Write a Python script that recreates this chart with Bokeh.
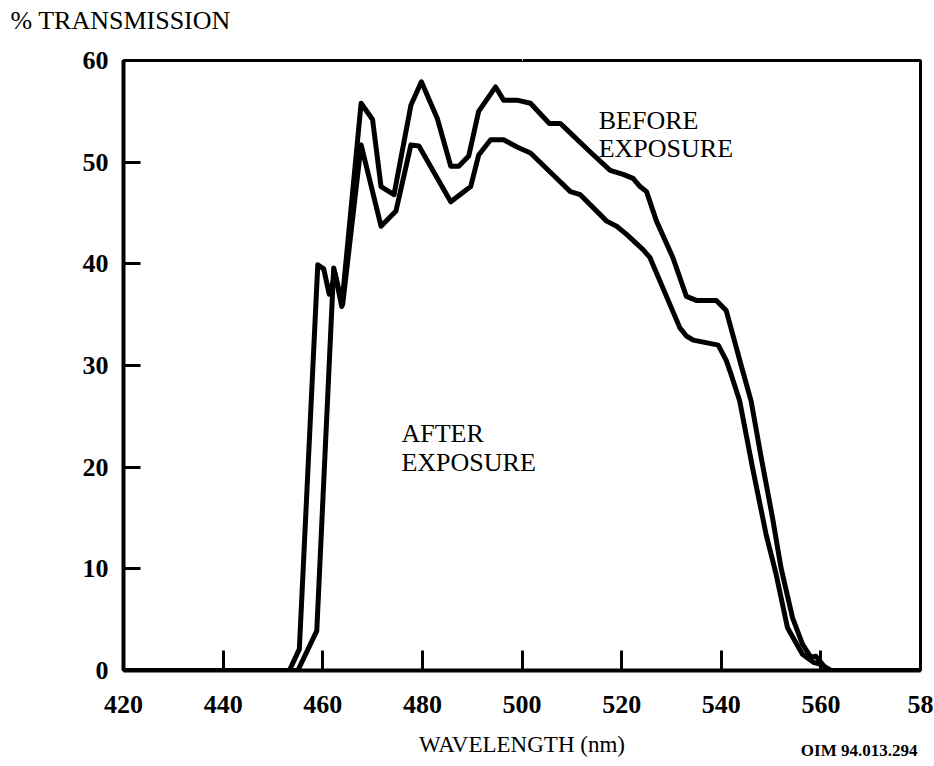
from bokeh.plotting import figure
from bokeh.models import Range1d, FixedTicker, Label, LinearAxis, Title
from bokeh.embed import file_html
from bokeh.resources import INLINE

# ---- data ----
before_wavelength = [420, 453.3, 455.3, 459.0, 460.2, 461.3, 462.5, 463.8, 467.7, 470.0,
                     471.7, 474.3, 477.7, 479.8, 483.0, 485.7, 487.3, 489.3, 491.3, 494.7,
                     496.3, 499.0, 501.7, 505.5, 507.7, 509.0, 513.7, 517.7, 520.3, 522.3,
                     523.7, 525.0, 527.0, 530.3, 533.0, 535.0, 539.0, 541.0, 544.0, 546.0,
                     548.0, 550.3, 552.0, 554.3, 556.3, 558.0, 559.0, 560.0, 561.0, 562.0, 580]
before_transmission = [0, 0, 2.1, 39.9, 39.5, 37.0, 39.0, 35.8, 55.8, 54.2,
                       47.6, 46.8, 55.6, 57.9, 54.3, 49.6, 49.6, 50.6, 55.0, 57.4,
                       56.1, 56.1, 55.8, 53.8, 53.8, 53.2, 51.0, 49.2, 48.8, 48.4,
                       47.6, 47.1, 44.2, 40.6, 36.8, 36.4, 36.4, 35.4, 30.0, 26.5,
                       21.0, 15.0, 10.1, 5.2, 2.6, 1.3, 1.4, 0.8, 0.2, 0, 0]

after_wavelength = [420, 455.0, 458.8, 462.2, 463.2, 464.0, 467.7, 471.7, 474.7, 477.7,
                    479.3, 485.7, 489.7, 491.3, 493.7, 496.3, 499.0, 501.7, 507.0, 509.7,
                    511.7, 517.0, 519.0, 521.0, 524.3, 525.7, 531.7, 533.0, 534.4, 539.4,
                    541.0, 542.0, 543.7, 546.3, 549.0, 551.0, 553.3, 556.3, 558.5, 560.0,
                    562.0, 580]
after_transmission = [0, 0, 3.9, 39.6, 37.5, 36.0, 51.7, 43.7, 45.2, 51.7,
                      51.6, 46.1, 47.6, 50.7, 52.2, 52.2, 51.5, 50.9, 48.4, 47.1,
                      46.8, 44.2, 43.7, 42.9, 41.4, 40.6, 33.7, 32.9, 32.5, 32.0,
                      30.5, 29.1, 26.5, 19.9, 13.4, 9.5, 4.2, 1.6, 0.8, 0.6,
                      0, 0]

x_ticks = [420, 440, 460, 480, 500, 520, 540, 560, 580]
x_tick_labels = ["420", "440", "460", "480", "500", "520", "540", "560", "58"]
y_ticks = [0, 10, 20, 30, 40, 50, 60]
y_tick_labels = ["0", "10", "20", "30", "40", "50", "60"]

FONT = "Liberation Serif"

p = figure(width=934, height=766,
           x_range=Range1d(420, 580), y_range=Range1d(0, 60),
           output_backend="svg", toolbar_location=None,
           min_border_left=123, min_border_right=14,
           min_border_top=60, min_border_bottom=96)

p.background_fill_color = "white"
p.border_fill_color = "white"
p.outline_line_color = "black"
p.outline_line_width = 3
p.xgrid.visible = False
p.ygrid.visible = False

# x axis
p.xaxis.ticker = FixedTicker(ticks=x_ticks)
p.xaxis.major_label_overrides = {t: l for t, l in zip(x_ticks, x_tick_labels)}
p.xaxis.minor_tick_line_color = None
p.xaxis.major_tick_in = 20
p.xaxis.major_tick_out = 0
p.xaxis.major_tick_line_width = 3
p.xaxis.axis_line_width = 4
p.xaxis.major_label_standoff = 25
p.xaxis.major_label_text_font = FONT
p.xaxis.major_label_text_font_style = "bold"
p.xaxis.major_label_text_font_size = "26px"
p.xaxis.major_label_text_color = "black"
p.xaxis.axis_label = "WAVELENGTH (nm)"
p.xaxis.axis_label_standoff = 16
p.xaxis.axis_label_text_font = FONT
p.xaxis.axis_label_text_font_size = "23px"
p.xaxis.axis_label_text_font_style = "normal"
p.xaxis.axis_label_text_color = "black"

# y axis
p.yaxis.ticker = FixedTicker(ticks=y_ticks)
p.yaxis.major_label_overrides = {t: l for t, l in zip(y_ticks, y_tick_labels)}
p.yaxis.minor_tick_line_color = None
p.yaxis.major_tick_in = 17
p.yaxis.major_tick_out = 0
p.yaxis.major_tick_line_width = 3
p.yaxis.axis_line_width = 4
p.yaxis.major_label_standoff = 15
p.yaxis.major_label_text_font = FONT
p.yaxis.major_label_text_font_style = "bold"
p.yaxis.major_label_text_font_size = "26px"
p.yaxis.major_label_text_color = "black"

# blank spacer between the frame and the caption (one invisible tick, no label)
spacer = LinearAxis(ticker=FixedTicker(ticks=[500]), axis_line_color=None,
                    major_tick_line_color="white", minor_tick_line_color=None,
                    major_tick_in=0, major_tick_out=26, minor_tick_in=0,
                    minor_tick_out=0, major_label_standoff=0,
                    major_label_overrides={500: ""},
                    major_label_text_font_size="1px")
p.add_layout(spacer, "above")

# "% TRANSMISSION" caption at the top left
p.add_layout(Title(text="% TRANSMISSION", align="left", offset=-113, standoff=0,
                   vertical_align="bottom", text_font=FONT, text_font_size="26px",
                   text_font_style="normal", text_color="black"), "above")

# document code at the bottom right
p.add_layout(Title(text="OIM 94.013.294", align="right", offset=3, standoff=-38,
                   vertical_align="top", text_font=FONT, text_font_size="17px",
                   text_font_style="bold", text_color="black"), "below")

# curves
p.line(before_wavelength, before_transmission, line_color="black", line_width=5,
       line_join="round", line_cap="round")
p.line(after_wavelength, after_transmission, line_color="black", line_width=5,
       line_join="round", line_cap="round")

def add_text(x, y, txt, size, style="normal"):
    p.add_layout(Label(x=x, y=y, text=txt, text_font=FONT, text_font_size=size,
                       text_font_style=style, text_color="black",
                       text_align="left", text_baseline="alphabetic"))

add_text(515.4, 54.1, "BEFORE", "26px")
add_text(515.4, 51.35, "EXPOSURE", "26px")
add_text(475.8, 23.3, "AFTER", "26px")
add_text(475.8, 20.45, "EXPOSURE", "26px")

open("out.html", "w").write(file_html(p, INLINE))
